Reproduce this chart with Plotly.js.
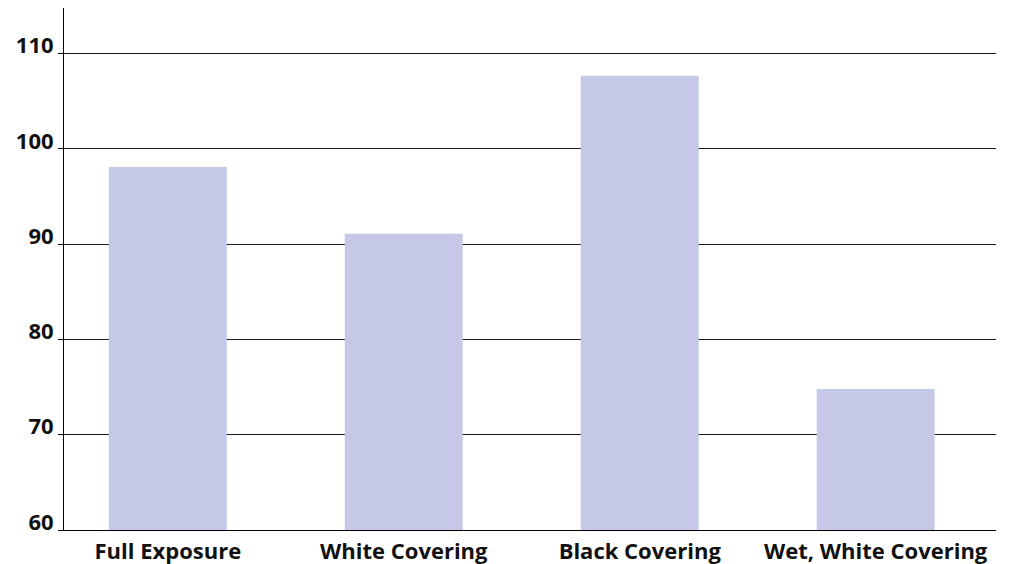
<!DOCTYPE html>
<html>
<head>
<meta charset="utf-8">
<script src="https://cdn.plot.ly/plotly-3.0.1.min.js"></script>
<style>html,body{margin:0;padding:0;background:#fff;}#chart{width:1012px;height:564px;}</style>
</head>
<body>
<div id="chart"></div>
<script>
const categories = ["Full Exposure", "White Covering", "Black Covering", "Wet, White Covering"];
const values = [98.1, 91.1, 107.7, 74.8];
const yTicks = [60, 70, 80, 90, 100, 110];

const trace = {
  type: "bar",
  x: categories,
  y: values,
  width: 0.5,
  marker: {color: "#c5c9e7", line: {width: 0}},
  hoverinfo: "x+y"
};

const layout = {
  width: 1012,
  height: 564,
  margin: {l: 64, r: 16, t: 8, b: 34, pad: 0},
  paper_bgcolor: "#ffffff",
  plot_bgcolor: "#ffffff",
  showlegend: false,
  xaxis: {
    type: "category",
    range: [-0.44, 3.51],
    showgrid: false,
    showline: true,
    linecolor: "#000",
    linewidth: 1,
    ticks: "",
    ticklabelstandoff: 2,
    tickfont: {family: "Open Sans, Noto Sans, sans-serif", size: 22, color: "#111", weight: 700},
    fixedrange: true
  },
  yaxis: {
    range: [60, 114.8],
    tickvals: yTicks,
    ticktext: yTicks.map(String),
    showgrid: true,
    gridcolor: "#1a1a1a",
    gridwidth: 1,
    zeroline: false,
    showline: true,
    linecolor: "#000",
    linewidth: 1,
    ticks: "outside",
    ticklen: 5,
    tickcolor: "#000",
    ticklabelshift: -8,
    ticklabelstandoff: 0,
    tickfont: {family: "Open Sans, Noto Sans, sans-serif", size: 22, color: "#111", weight: 700},
    fixedrange: true
  }
};

Plotly.newPlot("chart", [trace], layout, {displayModeBar: false, staticPlot: true});
</script>
</body>
</html>
